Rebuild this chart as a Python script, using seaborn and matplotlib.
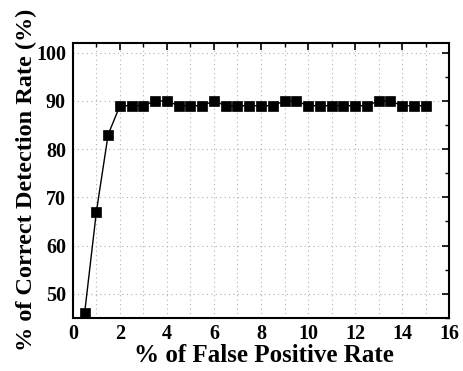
import matplotlib
matplotlib.use("Agg")
import matplotlib.pyplot as plt
from matplotlib.ticker import MultipleLocator
import seaborn as sns
import pandas as pd

fpr = [0.5, 1.0, 1.5, 2.0, 2.5, 3.0, 3.5, 4.0, 4.5, 5.0, 5.5, 6.0, 6.5, 7.0, 7.5,
       8.0, 8.5, 9.0, 9.5, 10.0, 10.5, 11.0, 11.5, 12.0, 12.5, 13.0, 13.5, 14.0, 14.5, 15.0]
cdr = [46, 67, 83, 89, 89, 89, 90, 90, 89, 89, 89, 90, 89, 89, 89,
       89, 89, 90, 90, 89, 89, 89, 89, 89, 89, 90, 90, 89, 89, 89]
x_label = "% of False Positive Rate"
y_label = "% of Correct Detection Rate (%)"

df = pd.DataFrame({"fpr": fpr, "cdr": cdr})

sns.set_style("white")
plt.rcParams["font.family"] = ["Liberation Serif", "DejaVu Serif"]
plt.rcParams["font.weight"] = "bold"
plt.rcParams["text.color"] = "black"
plt.rcParams["axes.labelcolor"] = "black"
plt.rcParams["xtick.color"] = "black"
plt.rcParams["ytick.color"] = "black"

fig = plt.figure(figsize=(4.64, 3.71), dpi=100)
ax = fig.add_axes([0.157, 0.143, 0.811, 0.741])

sns.lineplot(data=df, x="fpr", y="cdr", ax=ax, color="black", linewidth=1.0,
             marker="s", markersize=7, markeredgewidth=0.5,
             markeredgecolor="black", markerfacecolor="black")

ax.set_xlim(0, 16)
ax.set_ylim(45, 102)
ax.xaxis.set_major_locator(MultipleLocator(2))
ax.xaxis.set_minor_locator(MultipleLocator(1))
ax.yaxis.set_minor_locator(MultipleLocator(5))
ax.set_yticks([50, 60, 70, 80, 90, 100])

ax.grid(True, which="major", axis="y", color="#b0b0b0", linestyle=(0, (1, 3)), linewidth=0.8)
ax.grid(True, which="both", axis="x", color="#b0b0b0", linestyle=(0, (1, 3)), linewidth=0.8)
ax.set_axisbelow(True)

ax.tick_params(which="both", direction="in", top=True, right=True, colors="black")
ax.tick_params(which="major", length=5, width=1.2, labelsize=14.5, pad=5)
ax.tick_params(axis="x", which="major", pad=4)
ax.tick_params(which="minor", length=3, width=1.0)
for lab in ax.get_xticklabels() + ax.get_yticklabels():
    lab.set_fontweight("bold")
    lab.set_color("black")

for s in ax.spines.values():
    s.set_color("black")
    s.set_linewidth(1.5)

ax.set_xlabel(x_label, fontsize=18, fontweight="bold", color="black")
ax.set_ylabel(y_label, fontsize=17.5, fontweight="bold", color="black")
ax.xaxis.set_label_coords(0.507, -0.096)
ax.yaxis.set_label_coords(-0.095, 0.502)

fig.savefig("out.png", dpi=100)
